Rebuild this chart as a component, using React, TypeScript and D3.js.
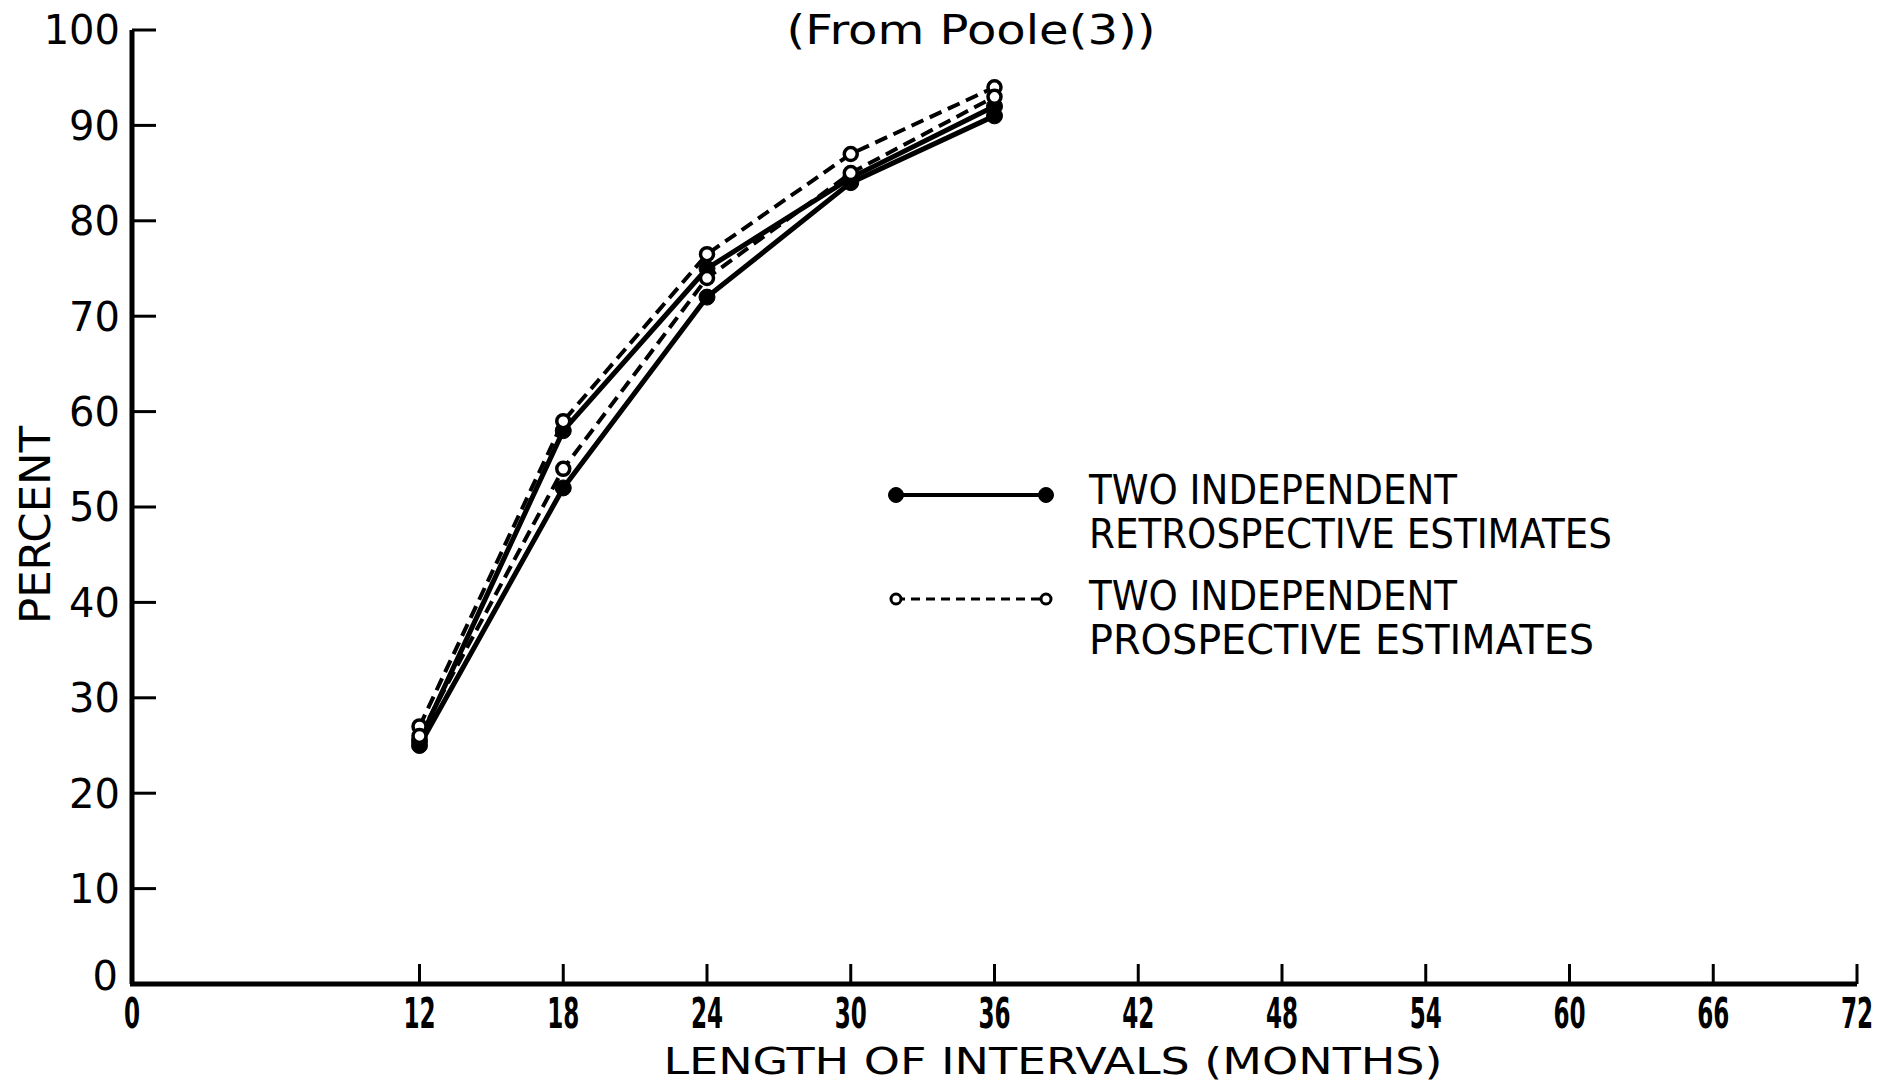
import React, { useEffect, useRef } from "react";
import * as d3 from "d3";

// months on the x axis where estimates were taken
const months = [12, 18, 24, 30, 36];
// two retrospective estimates (solid, filled dots)
const retroA = [25.5, 58, 75, 84.5, 92];
const retroB = [25, 52, 72, 84, 91];
// two prospective estimates (dashed, open dots)
const prospA = [27, 59, 76.5, 87, 94];
const prospB = [26, 54, 74, 85, 93];

const xTicks = [0, 12, 18, 24, 30, 36, 42, 48, 54, 60, 66, 72];
const yTicks = [0, 10, 20, 30, 40, 50, 60, 70, 80, 90, 100];

const W = 1885;
const H = 1084;

const App = () => {
  const ref = useRef<SVGSVGElement>(null);

  useEffect(() => {
    const svg = d3.select(ref.current);
    svg.selectAll("*").remove();

    const margin = { top: 30, right: 28, bottom: 100, left: 132 };

    const x = d3.scaleLinear().domain([0, 72]).range([margin.left, W - margin.right]);
    const y = d3.scaleLinear().domain([0, 100]).range([H - margin.bottom, margin.top]);

    const sans = "'DejaVu Sans', sans-serif";
    const narrow = "'DejaVu Sans Condensed', 'Liberation Sans Narrow', 'DejaVu Sans', sans-serif";

    // axes
    svg.append("line")
      .attr("x1", x(0)).attr("x2", x(0))
      .attr("y1", y(100)).attr("y2", y(0))
      .attr("stroke", "#000").attr("stroke-width", 5);
    svg.append("line")
      .attr("x1", x(0) - 2).attr("x2", x(72))
      .attr("y1", y(0)).attr("y2", y(0))
      .attr("stroke", "#000").attr("stroke-width", 5);

    // y ticks point inward
    svg.selectAll(".ytick")
      .data(yTicks.filter(d => d > 0))
      .enter()
      .append("line")
      .attr("x1", x(0)).attr("x2", x(0) + 24)
      .attr("y1", d => y(d)).attr("y2", d => y(d))
      .attr("stroke", "#000").attr("stroke-width", 3);

    svg.selectAll(".ylab")
      .data(yTicks)
      .enter()
      .append("text")
      .attr("x", d => (d === 0 ? x(0) - 14 : x(0) - 12))
      .attr("y", d => (d === 0 ? y(d) - 8 : y(d)))
      .attr("dy", "0.36em")
      .attr("text-anchor", "end")
      .style("font-family", sans)
      .style("font-size", "40px")
      .text(d => d);

    // x ticks point up
    svg.selectAll(".xtick")
      .data(xTicks.filter(d => d > 0))
      .enter()
      .append("line")
      .attr("x1", d => x(d)).attr("x2", d => x(d))
      .attr("y1", y(0)).attr("y2", y(0) - 20)
      .attr("stroke", "#000").attr("stroke-width", 3);

    svg.selectAll(".xlab")
      .data(xTicks)
      .enter()
      .append("g")
      .attr("transform", d => `translate(${x(d)},${y(0) + 44}) scale(0.55,1)`)
      .append("text")
      .attr("text-anchor", "middle")
      .style("font-family", sans)
      .style("font-weight", "bold")
      .style("font-size", "42px")
      .text(d => d);

    // axis titles
    svg.append("text")
      .attr("x", 1053).attr("y", 1074)
      .attr("text-anchor", "middle")
      .attr("textLength", 779)
      .attr("lengthAdjust", "spacingAndGlyphs")
      .style("font-family", narrow)
      .style("font-size", "38px")
      .text("LENGTH OF INTERVALS (MONTHS)");

    svg.append("text")
      .attr("transform", `translate(50,525) rotate(-90)`)
      .attr("text-anchor", "middle")
      .attr("textLength", 198)
      .attr("lengthAdjust", "spacingAndGlyphs")
      .style("font-family", narrow)
      .style("font-size", "42px")
      .text("PERCENT");

    // title
    svg.append("text")
      .attr("x", 971).attr("y", 44)
      .attr("text-anchor", "middle")
      .attr("textLength", 369)
      .attr("lengthAdjust", "spacingAndGlyphs")
      .style("font-family", sans)
      .style("font-size", "40px")
      .text("(From Poole(3))");

    const line = d3.line<number>()
      .x((_, i) => x(months[i]))
      .y(d => y(d));

    const series = [
      { values: retroA, dashed: false },
      { values: retroB, dashed: false },
      { values: prospA, dashed: true },
      { values: prospB, dashed: true },
    ];

    series.forEach(s => {
      svg.append("path")
        .datum(s.values)
        .attr("d", line)
        .attr("fill", "none")
        .attr("stroke", "#000")
        .attr("stroke-width", s.dashed ? 4 : 5)
        .attr("stroke-dasharray", s.dashed ? "13,7" : null);
    });

    // markers: filled first, open on top
    [...series].sort((a, b) => Number(a.dashed) - Number(b.dashed)).forEach(s => {
      svg.selectAll(null)
        .data(s.values)
        .enter()
        .append("circle")
        .attr("cx", (_, i) => x(months[i]))
        .attr("cy", d => y(d))
        .attr("r", s.dashed ? 6.5 : 8)
        .attr("fill", s.dashed ? "#fff" : "#000")
        .attr("stroke", "#000")
        .attr("stroke-width", s.dashed ? 3.5 : 1);
    });

    // legend
    const lx1 = 896, lx2 = 1046;
    const legend = [
      { y: 495, dashed: false, lines: ["TWO INDEPENDENT", "RETROSPECTIVE ESTIMATES"], lens: [368, 523], base: [504, 548] },
      { y: 599, dashed: true, lines: ["TWO INDEPENDENT", "PROSPECTIVE ESTIMATES"], lens: [368, 505], base: [610, 654] },
    ];
    legend.forEach(l => {
      svg.append("line")
        .attr("x1", lx1).attr("x2", lx2)
        .attr("y1", l.y).attr("y2", l.y)
        .attr("stroke", "#000")
        .attr("stroke-width", l.dashed ? 3 : 4)
        .attr("stroke-dasharray", l.dashed ? "9,6" : null);
      [lx1, lx2].forEach(cx => {
        svg.append("circle")
          .attr("cx", cx).attr("cy", l.y)
          .attr("r", l.dashed ? 5 : 7.5)
          .attr("fill", l.dashed ? "#fff" : "#000")
          .attr("stroke", "#000")
          .attr("stroke-width", l.dashed ? 3 : 1);
      });
      l.lines.forEach((t, i) => {
        svg.append("text")
          .attr("x", 1089).attr("y", l.base[i])
          .attr("textLength", l.lens[i])
          .attr("lengthAdjust", "spacingAndGlyphs")
          .style("font-family", narrow)
          .style("font-size", "40px")
          .text(t);
      });
    });
  }, []);

  return (
    <svg
      ref={ref}
      width={W}
      height={H}
      style={{ position: "absolute", left: 0, top: 0, background: "#fff" }}
    />
  );
};

export default App;
